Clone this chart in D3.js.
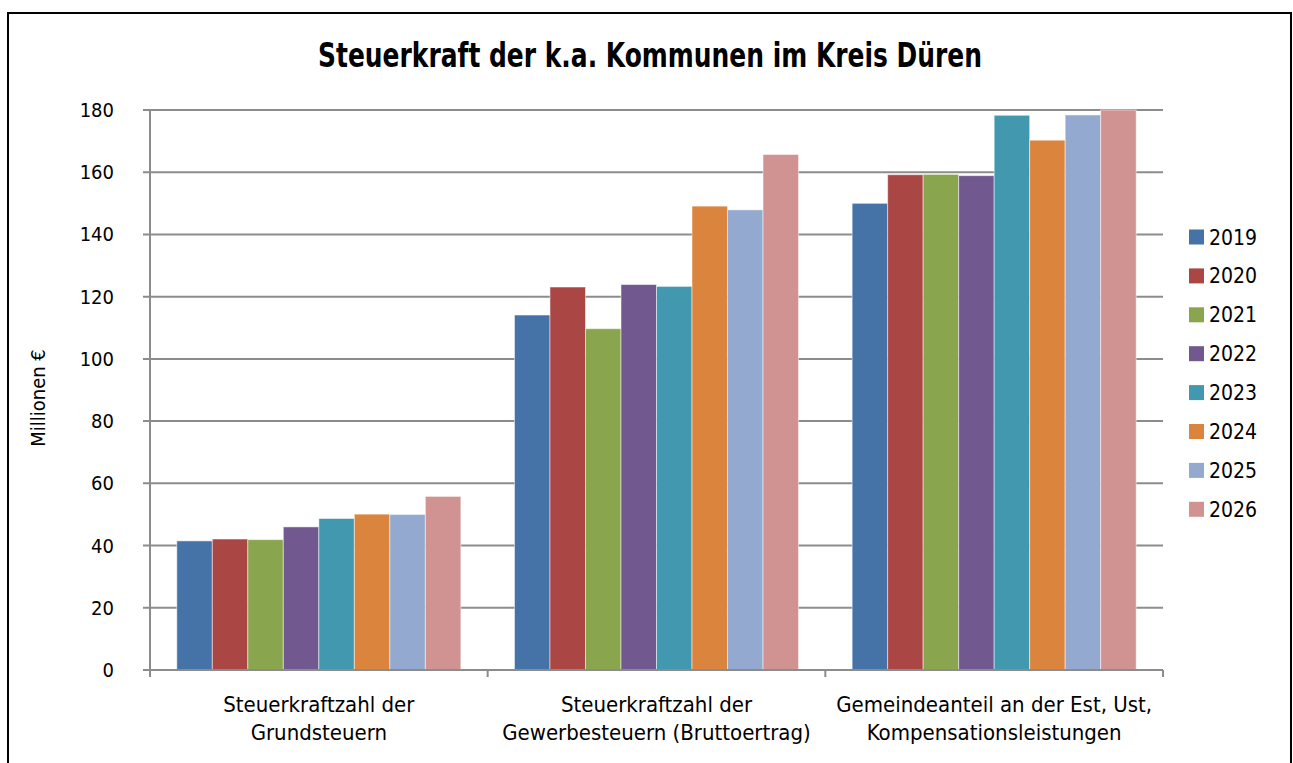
<!DOCTYPE html>
<meta charset="utf-8">
<style>
body { margin: 0; background: #fff; }
text { font-family: "Liberation Sans Narrow", "DejaVu Sans Condensed", sans-serif; fill: #000; }
.grid line { stroke: #8c8c8c; stroke-width: 2px; }
.axis line { stroke: #8c8c8c; stroke-width: 2px; }
</style>
<svg width="1293" height="763"></svg>
<script src="https://cdn.jsdelivr.net/npm/d3@7"></script>
<script>

var categories = [
  ["Steuerkraftzahl der", "Grundsteuern"],
  ["Steuerkraftzahl der", "Gewerbesteuern (Bruttoertrag)"],
  ["Gemeindeanteil an der Est, Ust,", "Kompensationsleistungen"]
];
var years = ["2019", "2020", "2021", "2022", "2023", "2024", "2025", "2026"];
var colors = ["#4572A7", "#AA4643", "#89A54E", "#71588F", "#4198AF", "#DB843D", "#93A9CF", "#D19392"];

// Millionen € per year, one array per category
var grundsteuern = [41.5, 42.1, 41.9, 46.0, 48.7, 50.1, 50.0, 55.8];
var gewerbesteuern = [114.1, 123.1, 109.7, 123.9, 123.3, 149.1, 147.9, 165.7];
var gemeindeanteil = [150.0, 159.2, 159.3, 158.9, 178.3, 170.3, 178.4, 180.0];
var values = [grundsteuern, gewerbesteuern, gemeindeanteil];

var yTicks = [0, 20, 40, 60, 80, 100, 120, 140, 160, 180];

var svg = d3.select("svg");

svg.append("rect")
    .attr("x", 8).attr("y", 13)
    .attr("width", 1283).attr("height", 760)
    .attr("fill", "#fff")
    .attr("stroke", "#000")
    .attr("stroke-width", 2);

var plotLeft = 150, plotRight = 1163, plotTop = 110, plotBottom = 670;

var x0 = d3.scaleBand()
    .domain(d3.range(categories.length))
    .range([plotLeft, plotRight]);

var x1 = d3.scaleBand()
    .domain(years)
    .range([0, x0.bandwidth()])
    .paddingOuter(0.755);

var y = d3.scaleLinear()
    .domain([0, 180])
    .range([plotBottom, plotTop]);

// gridlines
svg.append("g")
    .attr("class", "grid")
  .selectAll("line")
  .data(yTicks)
  .enter().append("line")
    .attr("x1", plotLeft - 7)
    .attr("x2", plotRight)
    .attr("y1", function(d) { return y(d); })
    .attr("y2", function(d) { return y(d); });

// y labels
svg.append("g")
  .selectAll("text")
  .data(yTicks)
  .enter().append("text")
    .attr("x", 114)
    .attr("y", function(d) { return y(d); })
    .attr("dy", "0.35em")
    .attr("text-anchor", "end")
    .attr("font-size", 20)
    .text(function(d) { return d; });

// bars
svg.append("g")
  .selectAll("g")
  .data(values)
  .enter().append("g")
    .attr("transform", function(d, i) { return "translate(" + x0(i) + ",0)"; })
  .selectAll("rect")
  .data(function(d) { return d.map(function(v, j) { return {year: years[j], value: v, color: colors[j]}; }); })
  .enter().append("rect")
    .attr("x", function(d) { return x1(d.year); })
    .attr("width", x1.bandwidth())
    .attr("y", function(d) { return y(d.value); })
    .attr("height", function(d) { return plotBottom - y(d.value); })
    .attr("fill", function(d) { return d.color; })
    .attr("stroke", "rgba(255,255,255,0.5)")
    .attr("stroke-width", 1);

// axes lines
var axis = svg.append("g").attr("class", "axis");
axis.append("line")
    .attr("x1", plotLeft).attr("x2", plotLeft)
    .attr("y1", plotTop).attr("y2", plotBottom + 7);
axis.append("line")
    .attr("x1", plotLeft - 7).attr("x2", plotRight)
    .attr("y1", plotBottom).attr("y2", plotBottom);
axis.selectAll(".tick")
  .data(d3.range(categories.length + 1))
  .enter().append("line")
    .attr("x1", function(d) { return plotLeft + d * x0.bandwidth(); })
    .attr("x2", function(d) { return plotLeft + d * x0.bandwidth(); })
    .attr("y1", plotBottom)
    .attr("y2", plotBottom + 7);

// category labels
svg.append("g")
  .selectAll("text")
  .data(categories)
  .enter().append("text")
    .attr("x", function(d, i) { return x0(i) + x0.bandwidth() / 2; })
    .attr("y", 712)
    .attr("text-anchor", "middle")
    .attr("font-size", 22)
  .selectAll("tspan")
  .data(function(d) { return d; })
  .enter().append("tspan")
    .attr("x", function() { return d3.select(this.parentNode).attr("x"); })
    .attr("dy", function(d, i) { return i ? 28 : 0; })
    .text(function(d) { return d; });

// y axis title
svg.append("text")
    .attr("transform", "translate(45,398) rotate(-90)")
    .attr("text-anchor", "middle")
    .attr("font-size", 20)
    .text("Millionen €");

// title
svg.append("text")
    .attr("x", 650)
    .attr("y", 67)
    .attr("text-anchor", "middle")
    .attr("font-size", 33)
    .attr("font-weight", "bold")
    .attr("textLength", 664)
    .attr("lengthAdjust", "spacingAndGlyphs")
    .text("Steuerkraft der k.a. Kommunen im Kreis Düren");

// legend
var legend = svg.append("g")
  .selectAll("g")
  .data(years)
  .enter().append("g")
    .attr("transform", function(d, i) { return "translate(1189," + (237 + i * 38.9) + ")"; });
legend.append("rect")
    .attr("y", -7.5)
    .attr("width", 15).attr("height", 15)
    .attr("fill", function(d, i) { return colors[i]; });
legend.append("text")
    .attr("x", 20)
    .attr("dy", "0.36em")
    .attr("font-size", 21)
    .text(function(d) { return d; });

</script>
